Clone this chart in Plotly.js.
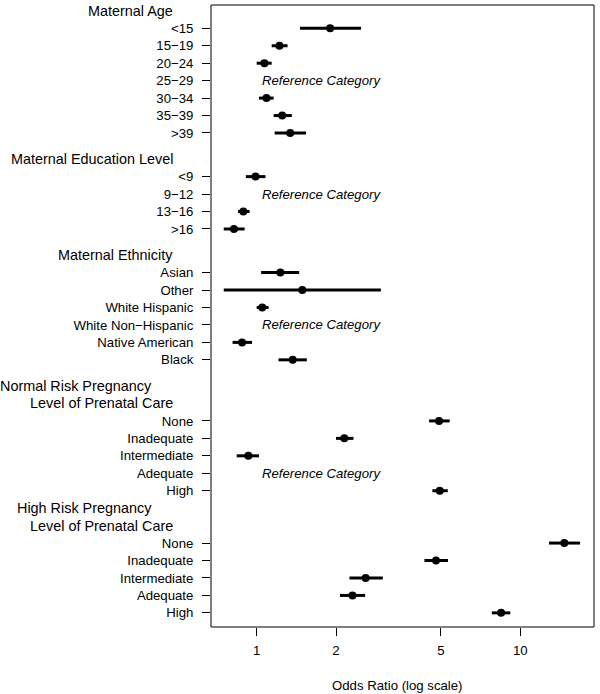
<!DOCTYPE html>
<html>
<head>
<meta charset="utf-8">
<script src="https://cdn.plot.ly/plotly-3.0.1.min.js"></script>
<style>html,body{margin:0;padding:0;background:#fff;}#chart{width:600px;height:694px;}</style>
</head>
<body>
<div id="chart"></div>
<script>
// ---- data ----
const rowLabels = ["<15","15−19","20−24","25−29","30−34","35−39",">39",
  "<9","9−12","13−16",">16",
  "Asian","Other","White Hispanic","White Non−Hispanic","Native American","Black",
  "None","Inadequate","Intermediate","Adequate","High",
  "None","Inadequate","Intermediate","Adequate","High"];
const oddsRatio = [1.90,1.22,1.07,null,1.09,1.25,1.34,
  0.99,null,0.89,0.82,
  1.23,1.49,1.05,null,0.88,1.37,
  4.92,2.15,0.93,null,4.95,
  14.70,4.79,2.59,2.31,8.46];
const ciLower = [1.46,1.14,1.00,null,1.02,1.16,1.17,
  0.91,null,0.85,0.75,
  1.04,0.75,1.00,null,0.81,1.21,
  4.51,2.00,0.84,null,4.64,
  12.86,4.33,2.25,2.07,7.80];
const ciUpper = [2.49,1.31,1.14,null,1.16,1.36,1.54,
  1.08,null,0.94,0.90,
  1.45,2.96,1.11,null,0.96,1.55,
  5.40,2.33,1.02,null,5.31,
  16.87,5.32,3.01,2.58,9.17];
const headings = ["Maternal Age","Maternal Education Level","Maternal Ethnicity",
  "Normal Risk Pregnancy","Level of Prenatal Care",
  "High Risk Pregnancy","Level of Prenatal Care"];
const xTicks = [1,2,5,10];
const refText = "Reference Category";
const xTitle = "Odds Ratio (log scale)";

// ---- layout constants (row positions, in row units from top) ----
const rowY = [0,1,2,3,4,5,6, 8.5,9.5,10.5,11.5, 14,15,16,17,18,19,
  22.5,23.5,24.5,25.5,26.5, 29.5,30.5,31.5,32.5,33.5];
const headingY = [-1,7.5,13,20.5,21.5,27.5,28.5];
const headingShift = [-36,-36,-36,-57,-36,-57,-36];

const FONT = "Liberation Sans, Arial, Helvetica, sans-serif";

const idx = oddsRatio.map((v,i)=>i).filter(i=>oddsRatio[i]!==null);
const trace = {
  type:"scatter", mode:"markers",
  x: idx.map(i=>oddsRatio[i]),
  y: idx.map(i=>rowY[i]),
  marker:{color:"#000", size:8, symbol:"circle"},
  error_x:{type:"data", symmetric:false,
    array: idx.map(i=>ciUpper[i]-oddsRatio[i]),
    arrayminus: idx.map(i=>oddsRatio[i]-ciLower[i]),
    color:"#000", thickness:3, width:0},
  hoverinfo:"none", showlegend:false, cliponaxis:false
};

const annotations = [];
headings.forEach((h,k)=>{
  annotations.push({text:h, xref:"paper", x:0, xanchor:"right", xshift:headingShift[k],
    yref:"y", y:headingY[k], yanchor:"middle", showarrow:false,
    font:{family:FONT, size:14.4, color:"#000"}});
});
oddsRatio.forEach((v,i)=>{
  if(v===null){
    annotations.push({text:"<i>"+refText+"</i>", xref:"x", x:Math.log10(1), xanchor:"left", xshift:3,
      yref:"y", y:rowY[i], yanchor:"middle", showarrow:false,
      font:{family:FONT, size:13.2, color:"#000"}});
  }
});
annotations.push({text:xTitle, xref:"paper", x:0.4856, xanchor:"center",
  yref:"paper", y:0, yanchor:"middle", yshift:-58, showarrow:false,
  font:{family:FONT, size:13.2, color:"#000"}});

const layout = {
  width:600, height:694,
  margin:{l:211, r:6, t:5, b:67, pad:0},
  paper_bgcolor:"#fff", plot_bgcolor:"#fff",
  font:{family:FONT, size:13.2, color:"#000"},
  showlegend:false,
  xaxis:{type:"log", range:[Math.log10(0.671), Math.log10(19.05)],
    tickmode:"array", tickvals:xTicks, ticktext:xTicks.map(String),
    ticks:"outside", ticklen:8, tickwidth:1, tickcolor:"#000",
    showgrid:false, zeroline:false, showline:false,
    tickfont:{family:FONT, size:13.2, color:"#000"}, ticklabelstandoff:3},
  yaxis:{range:[34.31,-1.335], tickmode:"array", tickvals:rowY, ticktext:rowLabels,
    ticks:"outside", ticklen:8, tickwidth:1, tickcolor:"#000",
    showgrid:false, zeroline:false, showline:false,
    tickfont:{family:FONT, size:13.2, color:"#000"}, ticklabelstandoff:6},
  shapes:[
    {type:"rect", xref:"paper", yref:"paper", x0:0, x1:1, y0:0, y1:1,
      line:{color:"#000", width:1}, fillcolor:"rgba(0,0,0,0)"},
    {type:"line", xref:"x", yref:"paper", x0:0, x1:0, y0:0, y1:1,
      line:{color:"#000", width:2, dash:"6px,4px"}}
  ],
  annotations:annotations
};

Plotly.newPlot("chart",[trace],layout,{staticPlot:true, displayModeBar:false});
</script>
</body>
</html>
